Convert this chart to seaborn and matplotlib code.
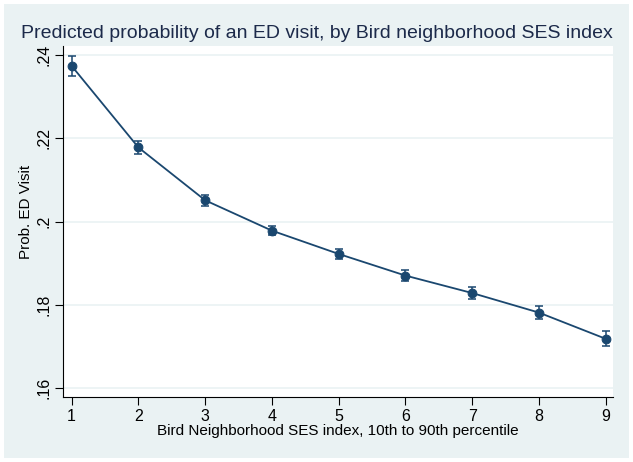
import numpy as np
import pandas as pd
import matplotlib.pyplot as plt
import matplotlib.patches as mpatches
import seaborn as sns

ses_index = [1, 2, 3, 4, 5, 6, 7, 8, 9]
prob_visit = [0.2374, 0.2178, 0.2051, 0.1978, 0.1922, 0.1870, 0.1828, 0.1781, 0.1718]
ci_half = [0.0024, 0.0016, 0.0013, 0.0011, 0.0013, 0.0014, 0.0014, 0.0015, 0.0018]
y_ticks = [0.16, 0.18, 0.20, 0.22, 0.24]
y_tick_labels = [".16", ".18", ".2", ".22", ".24"]

navy = "#1a476f"
bg = "#eaf2f3"
txt = "#1c2a4a"

df = pd.DataFrame({"ses": ses_index, "prob": prob_visit, "ci": ci_half})

sns.set_style("white")
plt.rcParams['font.family'] = ['Liberation Sans', 'DejaVu Sans']

fig = plt.figure(figsize=(6.33, 4.62), dpi=100, facecolor="white")
# stata-style graph region, slightly inset from the edge
fig.patches.append(mpatches.Rectangle((4 / 633, 4 / 462), 1 - 8 / 633, 1 - 8 / 462,
                                      transform=fig.transFigure, facecolor=bg,
                                      edgecolor="none", zorder=-10))
ax = fig.add_axes([63 / 633, 1 - 397 / 462, 550 / 633, 351 / 462])
ax.set_facecolor("white")

for yv in y_ticks:
    ax.axhline(yv, color=bg, lw=1.2, zorder=0)

ax.errorbar(df["ses"], df["prob"], yerr=df["ci"], fmt="none", ecolor=navy,
            elinewidth=1.1, capsize=2.8, capthick=1.1, zorder=2)
sns.lineplot(data=df, x="ses", y="prob", ax=ax, color=navy, lw=1.3,
             marker="o", markersize=6.3, markeredgecolor=navy, zorder=3)

ax.set_xlim(0.87, 9.11)
ax.set_ylim(0.1578, 0.2422)
ax.set_xticks(ses_index)
ax.set_xticklabels([str(v) for v in ses_index], fontsize=11.5, color="black")
ax.set_yticks(y_ticks)
ax.set_yticklabels(y_tick_labels, rotation=90, va="center", fontsize=11.5, color="black")
ax.tick_params(axis="both", direction="out", length=5.5, width=0.8, color="black",
               bottom=True, left=True, pad=3)

for side in ["top", "right"]:
    ax.spines[side].set_visible(False)
for side in ["left", "bottom"]:
    ax.spines[side].set_color("black")
    ax.spines[side].set_linewidth(0.8)

ax.set_xlabel("Bird Neighborhood SES index, 10th to 90th percentile", fontsize=11,
              color="black", labelpad=0)
ax.set_ylabel("Prob. ED Visit", fontsize=11, color="black")
ax.yaxis.set_label_coords(-0.054, 0.528)
fig.text(0.5, 1 - 33 / 462, "Predicted probability of an ED visit, by Bird neighborhood SES index",
         ha="center", va="center", fontsize=14, color=txt)

fig.savefig("out.png", dpi=100, facecolor=fig.get_facecolor())
